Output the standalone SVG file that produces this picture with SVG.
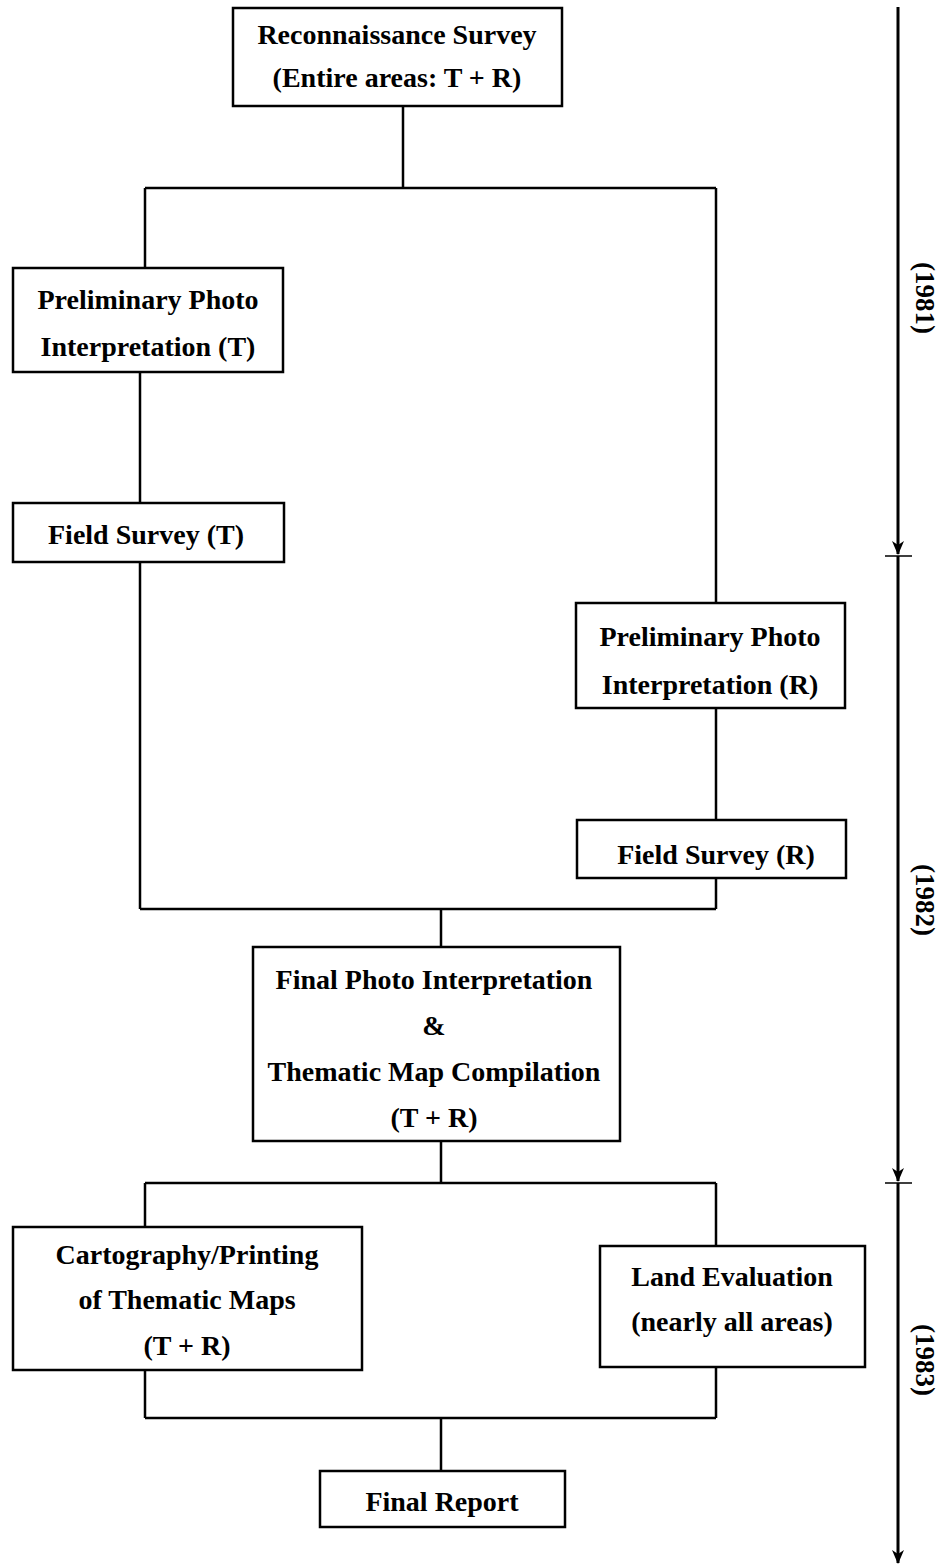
<svg xmlns="http://www.w3.org/2000/svg" width="940" height="1567" viewBox="0 0 940 1567">
<style>
.box{fill:#fff;stroke:#000;stroke-width:2.5}
.t{font-family:"Liberation Serif","Times New Roman",serif;font-weight:bold;font-size:28px;fill:#000;text-anchor:middle}
.yr{font-family:"Liberation Serif","Times New Roman",serif;font-weight:bold;font-size:27px;fill:#000;text-anchor:middle;dominant-baseline:central}
.c{fill:none;stroke:#000;stroke-width:2.5}
.tl{fill:none;stroke:#000;stroke-width:3}
.tk{fill:none;stroke:#000;stroke-width:1.5}
</style>
<defs>
<marker id="ah" markerWidth="14" markerHeight="12" refX="13" refY="6" orient="auto" markerUnits="userSpaceOnUse" viewBox="0 0 14 12">
<path d="M0,0 L14,6 L0,12 L4,6 Z" fill="#000"/>
</marker>
</defs>
<rect width="940" height="1567" fill="#fff"/>
<g id="connectors">
<path class="c" d="M403 106 V188 M145 188 H716 M145 188 V268 M716 188 V603"/>
<path class="c" d="M140 372 V503 M140 562 V909 M716 708 V820 M716 878 V909 M140 909 H716 M441 909 V947"/>
<path class="c" d="M441 1141 V1183 M145 1183 H716 M145 1183 V1227 M716 1183 V1246"/>
<path class="c" d="M145 1370 V1418 M716 1367 V1418 M145 1418 H716 M441 1418 V1471"/>
</g>
<g id="timeline">
<path class="tl" d="M898 7 V554" marker-end="url(#ah)"/>
<path class="tl" d="M898 556 V1181" marker-end="url(#ah)"/>
<path class="tl" d="M898 1183 V1563" marker-end="url(#ah)"/>
<path class="tk" d="M885 556 H912 M885 1183 H912"/>
<text class="yr" transform="translate(925,298) rotate(90)">(1981)</text>
<text class="yr" transform="translate(925,900) rotate(90)">(1982)</text>
<text class="yr" transform="translate(925,1360) rotate(90)">(1983)</text>
</g>
<g id="recon">
<rect class="box" x="233" y="8" width="329" height="98"/>
<text class="t" x="397" y="44">Reconnaissance Survey</text>
<text class="t" x="397" y="87">(Entire areas: T + R)</text>
</g>
<g id="prelim-t">
<rect class="box" x="13" y="268" width="270" height="104"/>
<text class="t" x="148" y="309">Preliminary Photo</text>
<text class="t" x="148" y="356">Interpretation (T)</text>
</g>
<g id="field-t">
<rect class="box" x="13" y="503" width="271" height="59"/>
<text class="t" x="146" y="544">Field Survey (T)</text>
</g>
<g id="prelim-r">
<rect class="box" x="576" y="603" width="269" height="105"/>
<text class="t" x="710" y="646">Preliminary Photo</text>
<text class="t" x="710" y="694">Interpretation (R)</text>
</g>
<g id="field-r">
<rect class="box" x="577" y="820" width="269" height="58"/>
<text class="t" x="716" y="864">Field Survey (R)</text>
</g>
<g id="final-interp">
<rect class="box" x="253" y="947" width="367" height="194"/>
<text class="t" x="434" y="989">Final Photo Interpretation</text>
<text class="t" x="434" y="1035">&amp;</text>
<text class="t" x="434" y="1081">Thematic Map Compilation</text>
<text class="t" x="434" y="1127">(T + R)</text>
</g>
<g id="cartography">
<rect class="box" x="13" y="1227" width="349" height="143"/>
<text class="t" x="187" y="1264">Cartography/Printing</text>
<text class="t" x="187" y="1309">of Thematic Maps</text>
<text class="t" x="187" y="1355">(T + R)</text>
</g>
<g id="land-eval">
<rect class="box" x="600" y="1246" width="265" height="121"/>
<text class="t" x="732" y="1286">Land Evaluation</text>
<text class="t" x="732" y="1331">(nearly all areas)</text>
</g>
<g id="final-report">
<rect class="box" x="320" y="1471" width="245" height="56"/>
<text class="t" x="442" y="1511">Final Report</text>
</g>
</svg>
